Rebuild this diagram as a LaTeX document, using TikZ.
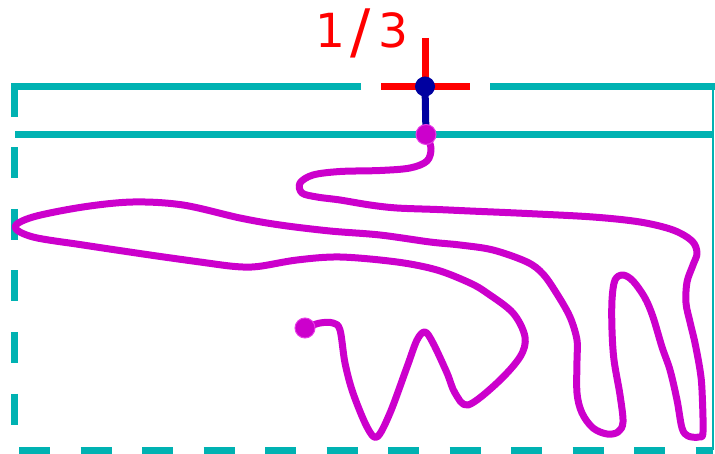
\documentclass[tikz,border=0pt]{standalone}
\usepackage{fontspec}
\newfontfamily\labelfont{DejaVu Sans}
\definecolor{tealc}{RGB}{0,178,178}
\definecolor{navyc}{RGB}{0,0,160}
\definecolor{magc}{RGB}{204,0,204}
\definecolor{magrim}{RGB}{230,60,230}
\tikzset{
  frame/.style={draw=tealc, line width=7pt},
  framedash/.style={draw=tealc, line width=7pt, dash pattern=on 31pt off 30.5pt},
  crossline/.style={draw=red, line width=7pt},
  stemline/.style={draw=navyc, line width=7pt},
  wire/.style={draw=magc, line width=7pt, line cap=round, line join=round},
  navydot/.style={circle, fill=navyc, minimum size=20pt, inner sep=0pt},
  magdot/.style={circle, fill=magc, draw=magrim, line width=1pt, minimum size=20pt, inner sep=0pt},
  frac/.style={text=red, font=\labelfont\fontsize{47}{47}\selectfont, inner sep=0pt, anchor=base west}
}
\begin{document}
\begin{tikzpicture}[x=1pt,y=-1pt]
\useasboundingbox (0,0) rectangle (715,454);
\coordinate (pivot) at (425,86.5);
\coordinate (start) at (426,134.5);
\coordinate (finish) at (305,328);
% frame
\draw[frame] (361,86.5) -- (10.5,86.5);
\draw[frame] (490,86.5) -- (716,86.5);
\draw[framedash] (14,86) -- (14,450) -- (713,450);
\draw[frame] (15,134.5) -- (712,134.5);
\draw[draw=tealc, line width=2pt] (712.5,86.5) -- (712.5,450);
% red cross
\draw[crossline] (381,86.5) -- (470,86.5);
\draw[crossline] (425,38) -- (pivot);
\node[frac] (label) at (315,47.5) {1\kern5.5pt\raisebox{-5pt}{\fontsize{60}{60}\selectfont/}\kern7.5pt3};
% stem
\draw[stemline] (pivot) -- (start);
% wire
\draw[wire] plot[smooth, tension=0.55] coordinates {
(426,134.5) (431,148) (427,161) (410,168) (380,170.5) (340,171.5) (313,175) (300,183) (302,193) (317,197) (340,200) (370,205) (397,208) (437,209.5) (470,211) (527,213.5) (593,217) (640,222) (673,230) (692,241) (697,253) (693,265) (687,282) (686,303) (690,322) (695,343) (700,370) (702,390) (703,432) (699,437) (688,436) (682,428) (677,400) (670,370) (662,347) (653,317) (645,298) (633,281) (623,275) (615,280) (612,300) (612,330) (614,360) (620,395) (623,422) (618,432) (607,434) (593,428) (582,413) (577,393) (577,360) (577,340) (570,317) (557,294) (543,274) (527,262) (493,250) (460,245) (430,242) (380,235) (330,231) (280,225) (240,218) (183,205) (133,202) (83,207) (33,217) (15,227) (33,237) (83,245) (150,255) (200,262) (235,266.5) (258,266.5) (297,260) (340,257) (397,262) (437,270) (470,283) (487,293) (513,313) (525,337) (520,357) (497,383) (468,405) (455,393) (447,373) (433,343) (425,332) (417,340) (407,367) (390,413) (377,437) (367,427) (353,393) (345,363) (340,330) (333,323) (320,323) (305,328)};
% dots
\node[navydot] (pivotdot) at (pivot) {};
\node[magdot] (startdot) at (start) {};
\node[magdot] (enddot) at (finish) {};
\end{tikzpicture}
\end{document}
